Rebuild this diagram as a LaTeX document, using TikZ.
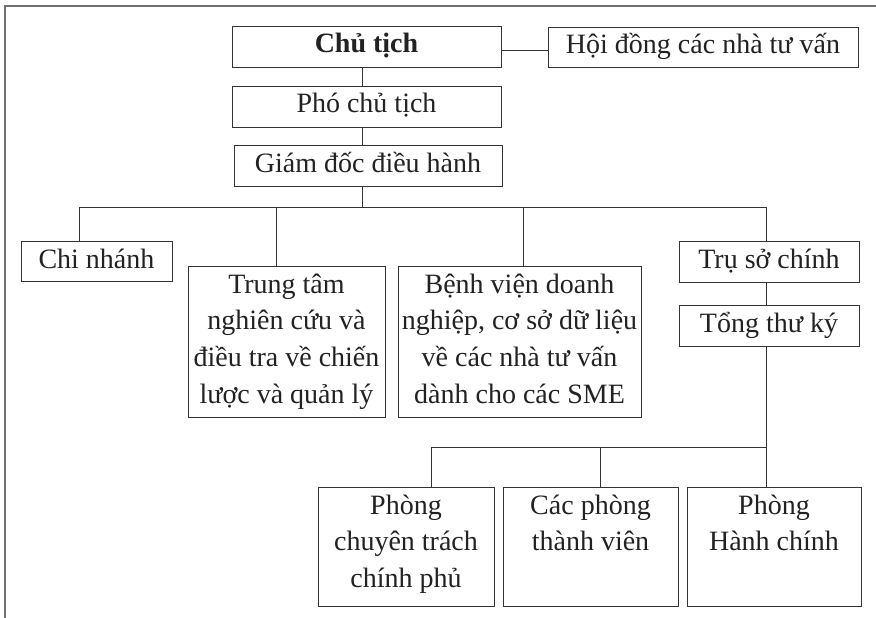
\documentclass[tikz,border=0pt]{standalone}
\usepackage{fontspec}
\setmainfont{Liberation Serif}
\definecolor{ink}{HTML}{222222}
\definecolor{rulec}{HTML}{333333}
\definecolor{framec}{HTML}{707070}
% fixed-size box with its text set from the top; first baseline 27pt down
\newcommand\orgtext[3]{\parbox[c][#2][t]{#1}{\centering\rule{0pt}{27pt}#3}}
\tikzset{
  orgbox/.style={draw=rulec, line width=0.9pt, inner sep=0pt, text=ink,
    font=\fontsize{28}{36.7}\selectfont},
  link/.style={draw=rulec, line width=0.9pt},
}
\begin{document}
\begin{tikzpicture}[x=1pt,y=-1pt]
\useasboundingbox (0,0) rectangle (876,618);
\fill[white] (0,0) rectangle (876,618);
% open frame: left and top edges
\draw[framec, line width=1.2pt] (5,618) -- (5,6) -- (876,6);

% top of the hierarchy
\node[orgbox] (chair)   at (366.5,46.5)  {\orgtext{269pt}{41pt}{\textbf{Chủ tịch}}};
\node[orgbox] (council) at (703,47)      {\orgtext{310pt}{40pt}{Hội đồng các nhà tư vấn}};
\node[orgbox] (vice)    at (366.5,106.5) {\orgtext{269pt}{41pt}{Phó chủ tịch}};
\node[orgbox] (ceo)     at (368,165.5)   {\orgtext{268pt}{41pt}{Giám đốc điều hành}};

% second level
\node[orgbox] (branch)   at (96.5,261)   {\orgtext{151pt}{40pt}{Chi nhánh}};
\node[orgbox] (research) at (286.5,341.5) {\orgtext{197pt}{151pt}{Trung tâm\\nghiên cứu và\\điều tra về chiến\\lược và quản lý}};
\node[orgbox] (hospital) at (519.5,341.5) {\orgtext{243pt}{151pt}{Bệnh viện doanh\\nghiệp, cơ sở dữ liệu\\về các nhà tư vấn\\dành cho các SME}};
\node[orgbox] (hq)       at (769,261.5)  {\orgtext{180pt}{41pt}{Trụ sở chính}};
\node[orgbox] (secgen)   at (769,325.5)  {\orgtext{180pt}{41pt}{Tổng thư ký}};

% departments
\node[orgbox] (govdept) at (406,546.5)   {\orgtext{176pt}{119pt}{Phòng\\chuyên trách\\chính phủ}};
\node[orgbox] (members) at (590.5,546.5) {\orgtext{175pt}{119pt}{Các phòng\\thành viên}};
\node[orgbox] (admin)   at (774,546.5)   {\orgtext{174pt}{119pt}{Phòng\\Hành chính}};

% junction points
\coordinate (spine) at (362,0);
\coordinate (cjoin) at (0,50);
\coordinate (b0) at (362,207);
\coordinate (b1) at (79,207);
\coordinate (b2) at (276.7,207);
\coordinate (b3) at (523.3,207);
\coordinate (b4) at (766.7,207);
\coordinate (s1) at (431,447.5);
\coordinate (s2) at (600.7,447.5);
\coordinate (s3) at (766.7,447.5);

% connectors
\draw[link] (chair.east |- cjoin) -- (council.west |- cjoin);
\draw[link] (chair.south -| spine) -- (vice.north -| spine);
\draw[link] (vice.south -| spine) -- (ceo.north -| spine);
\draw[link] (ceo.south -| spine) -- (b0);
\draw[link] (branch.north -| b1) -- (b1) -- (b4) -- (hq.north -| b4);
\draw[link] (research.north -| b2) -- (b2);
\draw[link] (hospital.north -| b3) -- (b3);
\draw[link] (hq.south -| b4) -- (secgen.north -| b4);
\draw[link] (secgen.south -| s3) -- (s3) -- (admin.north -| s3);
\draw[link] (s3) -- (s1) -- (govdept.north -| s1);
\draw[link] (s2) -- (members.north -| s2);
\end{tikzpicture}
\end{document}
